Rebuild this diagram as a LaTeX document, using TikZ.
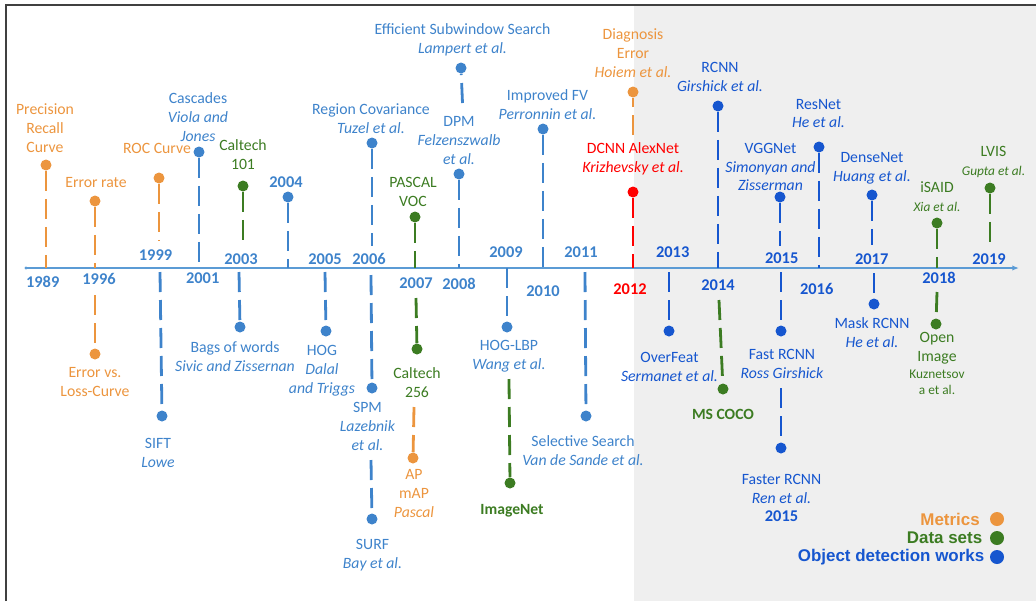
\documentclass[tikz,border=0pt]{standalone}
\usepackage{fontspec}
\setmainfont{Carlito}
\newfontfamily\legendfont{Liberation Sans}
\usetikzlibrary{arrows.meta}

\definecolor{metric}{RGB}{236,149,62}
\definecolor{early}{RGB}{62,131,203}
\definecolor{recent}{RGB}{22,86,207}
\definecolor{dataset}{RGB}{60,124,34}
\definecolor{hot}{RGB}{255,0,0}
\definecolor{axiscol}{RGB}{91,155,213}
\definecolor{eraback}{RGB}{239,239,239}
\definecolor{framecol}{RGB}{64,64,64}

\newcommand\smalltxt{\fontsize{10}{12}\selectfont}
\newcommand\yearfont{\fontsize{12.3}{14}\selectfont\bfseries}

\tikzset{
  lbl/.style={align=center, inner sep=0pt, font=\fontsize{11.8}{14.2}\selectfont},
  yr/.style={inner sep=0pt, font=\yearfont},
  boldlbl/.style={inner sep=0pt, font=\fontsize{11.7}{14}\selectfont\bfseries},
  legend/.style={inner sep=0pt, anchor=east, font=\fontsize{12.7}{15}\selectfont\legendfont\bfseries},
  pin/.style={circle, inner sep=0pt, minimum size=8.25pt},
  legpin/.style={circle, inner sep=0pt, minimum size=10.5pt},
  stem/.style={line width=2.1pt, dash pattern=on 15pt off 6pt},
  axisline/.style={draw=axiscol, line width=1pt},
}

\begin{document}
\begin{tikzpicture}[x=0.75pt,y=-0.75pt]
\useasboundingbox (0,0) rectangle (1036,601);

% shaded deep-learning era and frame
\fill[eraback] (634,5) rectangle (1036,601);
\draw[framecol, line width=1.5pt] (5.5,601) -- (5.5,4.5) -- (1036,4.5);

% time axis
\coordinate (axL) at (26,268);
\coordinate (axR) at (1019,268);
\draw[axisline, -{Latex[length=5pt,width=4pt]}] (axL) -- (axR);
\fill[axiscol] (axL) circle (1.3pt);

% ---------- labels: metrics ----------
\node[lbl, text=metric] (tPrec) at (45,128) {Precision\\Recall\\Curve};
\node[lbl, text=metric] (tErr) at (96,183) {Error rate};
\node[lbl, text=metric] (tElc) at (95,382) {Error vs.\\Loss-Curve};
\node[lbl, text=metric] (tRoc) at (157,148) {ROC Curve};
\node[lbl, text=metric] (tAp) at (414,493.5) {AP\\mAP\\\textit{Pascal}};
\node[lbl, text=metric] (tDiag) at (633,53) {Diagnosis\\Error\\\textit{Hoiem et al.}};

% ---------- labels: classic detection works ----------
\node[lbl, text=early] (tCasc) at (198,117.5) {Cascades\\\textit{Viola and}\\\textit{Jones}};
\node[lbl, text=early] (tSift) at (158,453) {SIFT\\\textit{Lowe}};
\node[lbl, text=early] (tBags) at (235,356.5) {Bags of words\\\textit{Sivic and Zissernan}};
\node[lbl, text=early] (tHog) at (322,370.5) {HOG\\\textit{Dalal}\\\textit{and Triggs}};
\node[lbl, text=early] (tReg) at (371,118.5) {Region Covariance\\\textit{Tuzel et al.}};
\node[lbl, text=early] (tSpm) at (367.5,426.5) {SPM\\\textit{Lazebnik}\\\textit{et al.}};
\node[lbl, text=early] (tSurf) at (372.5,555.5) {SURF\\\textit{Bay et al.}};
\node[lbl, text=early] (tEss) at (462.5,40) {Efficient Subwindow Search\\\textit{Lampert et al.}};
\node[lbl, text=early] (tDpm) at (459,140.5) {DPM\\\textit{Felzenszwalb}\\\textit{et al.}};
\node[lbl, text=early] (tHogLbp) at (509,356.5) {HOG-LBP\\\textit{Wang et al.}};
\node[lbl, text=early] (tIfv) at (547.5,105) {Improved FV\\\textit{Perronnin et al.}};
\node[lbl, text=early] (tSs) at (583,451) {Selective Search\\\textit{Van de Sande et al.}};

% ---------- labels: data sets ----------
\node[lbl, text=dataset] (tC101) at (243,154.5) {Caltech\\101};
\node[lbl, text=dataset] (tVoc) at (413,191.5) {PASCAL\\VOC};
\node[lbl, text=dataset] (tC256) at (417,382.5) {Caltech\\256};
\node[boldlbl, text=dataset] (tImnet) at (512,511) {ImageNet};
\node[boldlbl, text=dataset] (tCoco) at (723,414) {MS COCO};
\node[lbl, text=dataset] (tIsaid) at (937,197) {iSAID\\{\smalltxt\textit{Xia et al.}}};
\node[lbl, text=dataset] (tOi) at (937,363.5) {Open\\Image\\[-1.5pt]{\smalltxt Kuznetsov}\\[-2.5pt]{\smalltxt a et al.}};
\node[lbl, text=dataset] (tLvis) at (993.5,162) {LVIS\\{\smalltxt\textit{Gupta et al.}}};

% ---------- labels: deep detection works ----------
\node[lbl, text=hot] (tAlex) at (633,158.5) {DCNN AlexNet\\\textit{Krizhevsky et al.}};
\node[lbl, text=recent] (tOver) at (669.5,367) {OverFeat\\\textit{Sermanet et al.}};
\node[lbl, text=recent] (tRcnn) at (720,76.5) {RCNN\\\textit{Girshick et al.}};
\node[lbl, text=recent] (tVgg) at (770.5,167) {VGGNet\\\textit{Simonyan and}\\\textit{Zisserman}};
\node[lbl, text=recent] (tFast) at (782,363.5) {Fast RCNN\\\textit{Ross Girshick}};
\node[lbl, text=recent] (tFaster) at (781.5,498) {Faster RCNN\\\textit{Ren et al.}\\{\yearfont 2015}};
\node[lbl, text=recent] (tRes) at (818.5,113.5) {ResNet\\\textit{He et al.}};
\node[lbl, text=recent] (tDense) at (872,168.5) {DenseNet\\\textit{Huang et al.}};
\node[lbl, text=recent] (tMask) at (872,332.5) {Mask RCNN\\\textit{He et al.}};

% ---------- years ----------
\node[yr, text=early] (y1989) at (42.7,282) {1989};
\node[yr, text=early] (y1996) at (99,279) {1996};
\node[yr, text=early] (y1999) at (155.5,255) {1999};
\node[yr, text=early] (y2001) at (202.7,278) {2001};
\node[yr, text=early] (y2003) at (241,259) {2003};
\node[yr, text=early] (y2004) at (286,182) {2004};
\node[yr, text=early] (y2005) at (325,259) {2005};
\node[yr, text=early] (y2006) at (369,259) {2006};
\node[yr, text=early] (y2007) at (416,283) {2007};
\node[yr, text=early] (y2008) at (459,284) {2008};
\node[yr, text=early] (y2009) at (506,252) {2009};
\node[yr, text=early] (y2010) at (543,291) {2010};
\node[yr, text=early] (y2011) at (581,252) {2011};
\node[yr, text=hot] (y2012) at (630,289) {2012};
\node[yr, text=recent] (y2013) at (672.7,252) {2013};
\node[yr, text=recent] (y2014) at (718,285) {2014};
\node[yr, text=recent] (y2015) at (781.7,258) {2015};
\node[yr, text=recent] (y2016) at (816.7,289) {2016};
\node[yr, text=recent] (y2017) at (871.7,259) {2017};
\node[yr, text=recent] (y2018) at (939,278) {2018};
\node[yr, text=recent] (y2019) at (989,259) {2019};

% ---------- markers ----------
\node[pin, fill=metric] (dPrec) at (46,165) {};
\node[pin, fill=metric] (dErr) at (95,201) {};
\node[pin, fill=metric] (dElc) at (95,354) {};
\node[pin, fill=metric] (dRoc) at (159,178) {};
\node[pin, fill=metric] (dAp) at (413,458) {};
\node[pin, fill=metric] (dDiag) at (633,92) {};

\node[pin, fill=early] (dCasc) at (199,152) {};
\node[pin, fill=early] (dSift) at (162,416) {};
\node[pin, fill=early] (dBags) at (240,327) {};
\node[pin, fill=early] (d2004) at (288,197) {};
\node[pin, fill=early] (dHog) at (326,331) {};
\node[pin, fill=early] (dReg) at (372,143) {};
\node[pin, fill=early] (dSpm) at (372,388) {};
\node[pin, fill=early] (dSurf) at (372,519) {};
\node[pin, fill=early] (dEss) at (461,68) {};
\node[pin, fill=early] (dDpm) at (459,174) {};
\node[pin, fill=early] (dHogLbp) at (507,327) {};
\node[pin, fill=early] (dIfv) at (543,129) {};
\node[pin, fill=early] (dSs) at (586,416) {};

\node[pin, fill=dataset] (dC101) at (243,186) {};
\node[pin, fill=dataset] (dVoc) at (415,217) {};
\node[pin, fill=dataset] (dC256) at (417,349) {};
\node[pin, fill=dataset] (dImnet) at (510,483) {};
\node[pin, fill=dataset] (dCoco) at (723,389) {};
\node[pin, fill=dataset] (dIsaid) at (937,223) {};
\node[pin, fill=dataset] (dOi) at (936,324) {};
\node[pin, fill=dataset] (dLvis) at (990,188) {};

\node[pin, fill=hot] (dAlex) at (633,192) {};
\node[pin, fill=recent] (dOver) at (669,331) {};
\node[pin, fill=recent] (dRcnn) at (718,106) {};
\node[pin, fill=recent] (dVgg) at (780,197) {};
\node[pin, fill=recent] (dFast) at (781,331) {};
\node[pin, fill=recent] (dFaster) at (781,448) {};
\node[pin, fill=recent] (dRes) at (819,147) {};
\node[pin, fill=recent] (dDense) at (872,195) {};
\node[pin, fill=recent] (dMask) at (874,304) {};

% ---------- stem end points ----------
\coordinate (aPrec) at (46,268);
\coordinate (aErr) at (95,268);
\coordinate (aRoc) at (159,241);
\coordinate (aCasc) at (199,268);
\coordinate (aC101) at (243,241);
\coordinate (a2004) at (288,268);
\coordinate (aReg) at (372,246);
\coordinate (aVoc) at (415,268);
\coordinate (aEss) at (462.5,103);
\coordinate (aDpm) at (459,268);
\coordinate (aIfv) at (543,268);
\coordinate (aDiag) at (633,135);
\coordinate (aAlex) at (633,268);
\coordinate (aRcnn) at (718,268);
\coordinate (aVgg) at (780,246);
\coordinate (aRes) at (819,268);
\coordinate (aDense) at (872,245);
\coordinate (aIsaid) at (937,268);
\coordinate (aLvis) at (990,243);

\coordinate (bElc) at (95,295);
\coordinate (bSift) at (160,272);
\coordinate (bBags) at (239,272);
\coordinate (bHog) at (325,272);
\coordinate (bSpm) at (371,275);
\coordinate (bSurf) at (371,460);
\coordinate (bC256) at (416,298);
\coordinate (bAp) at (414,407);
\coordinate (bHogLbp) at (507,268);
\coordinate (bImnet) at (509,379);
\coordinate (bSs) at (585,272);
\coordinate (bOver) at (669,272);
\coordinate (bCoco) at (719,300);
\coordinate (bFast) at (781,272);
\coordinate (bFaster) at (781,388);
\coordinate (bMask) at (874,273);
\coordinate (bOi) at (937,292);

% ---------- stems above the axis ----------
\draw[stem, metric] (dPrec) -- (aPrec);
\draw[stem, metric] (dErr) -- (aErr);
\draw[stem, metric] (dRoc) -- (aRoc);
\draw[stem, early] (dCasc) -- (aCasc);
\draw[stem, dataset] (dC101) -- (aC101);
\draw[stem, early] (d2004) -- (a2004);
\draw[stem, early] (dReg) -- (aReg);
\draw[stem, dataset] (dVoc) -- (aVoc);
\draw[stem, early] (aEss) -- (dEss);
\draw[stem, early] (dDpm) -- (aDpm);
\draw[stem, early] (dIfv) -- (aIfv);
\draw[stem, metric] (aDiag) -- (dDiag);
\draw[stem, hot] (dAlex) -- (aAlex);
\draw[stem, recent] (dRcnn) -- (aRcnn);
\draw[stem, recent] (dVgg) -- (aVgg);
\draw[stem, recent] (dRes) -- (aRes);
\draw[stem, recent] (dDense) -- (aDense);
\draw[stem, dataset] (dIsaid) -- (aIsaid);
\draw[stem, dataset] (dLvis) -- (aLvis);

% ---------- stems below the axis ----------
\draw[stem, metric] (bElc) -- (dElc);
\draw[stem, early] (bSift) -- (dSift);
\draw[stem, early] (bBags) -- (dBags);
\draw[stem, early] (bHog) -- (dHog);
\draw[stem, early] (bSpm) -- (dSpm);
\draw[stem, early] (bSurf) -- (dSurf);
\draw[stem, dataset] (bC256) -- (dC256);
\draw[stem, metric] (bAp) -- (dAp);
\draw[stem, early] (bHogLbp) -- (dHogLbp);
\draw[stem, dataset] (bImnet) -- (dImnet);
\draw[stem, early] (bSs) -- (dSs);
\draw[stem, recent] (bOver) -- (dOver);
\draw[stem, dataset] (bCoco) -- (dCoco);
\draw[stem, recent] (bFast) -- (dFast);
\draw[stem, recent] (bFaster) -- (dFaster);
\draw[stem, recent] (bMask) -- (dMask);
\draw[stem, dataset] (bOi) -- (dOi);

% ---------- legend ----------
\node[legend, text=metric] (lgMet) at (980,519) {Metrics};
\node[legend, text=dataset] (lgData) at (982.5,538) {Data sets};
\node[legend, text=recent] (lgWork) at (984.5,557.5) {Object detection works};
\node[legpin, fill=metric] (lgMetDot) at (997,519) {};
\node[legpin, fill=dataset] (lgDataDot) at (997,538) {};
\node[legpin, fill=recent] (lgWorkDot) at (997,557) {};
\end{tikzpicture}
\end{document}
